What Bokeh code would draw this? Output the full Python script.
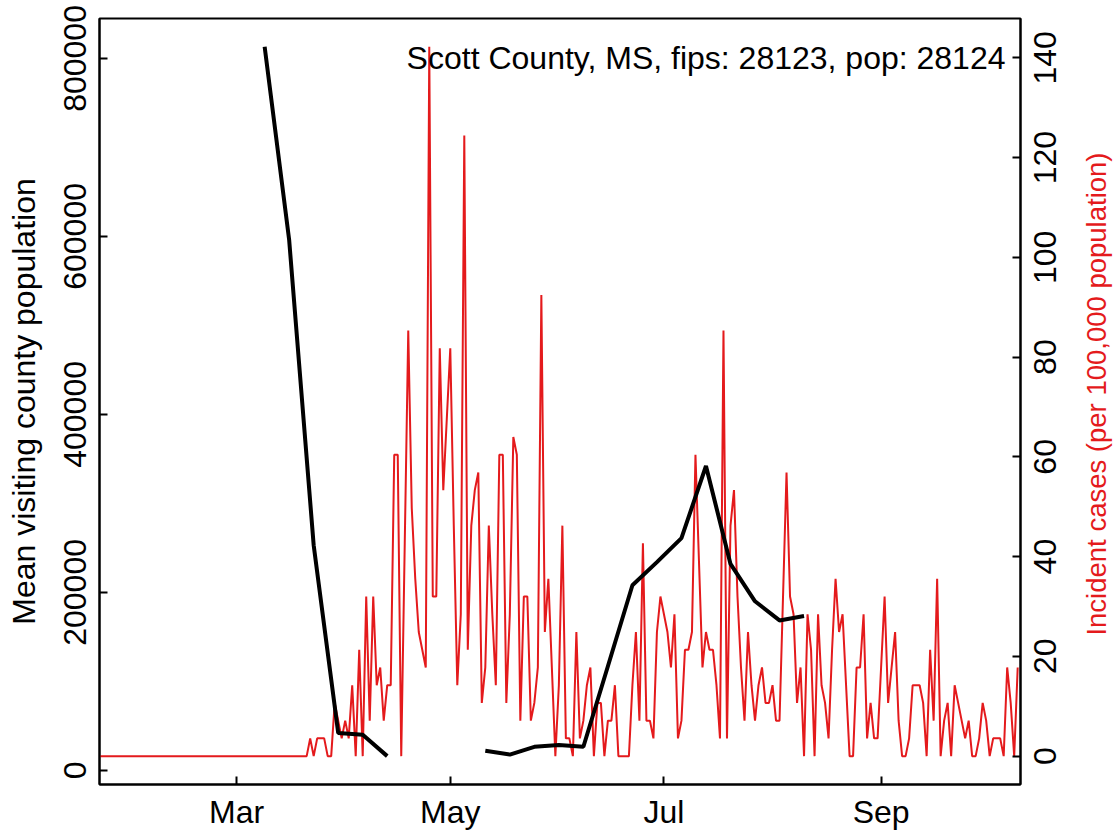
import math
import numpy as np
import pandas as pd
from bokeh.plotting import figure
from bokeh.models import (Range1d, LinearAxis, FixedTicker, BasicTickFormatter,
                          DatetimeTickFormatter, CustomJSTickFormatter, Label)
from bokeh.embed import file_html
from bokeh.resources import INLINE

FONT = "Liberation Sans"
RED = "#E41A1C"

# ---- data ---------------------------------------------------------------
# weekly mean visiting county population (black line); NaN = missing weeks
mobility_dates = ["2020-03-09", "2020-03-16", "2020-03-23", "2020-03-30",
                  "2020-04-06", "2020-04-13", "2020-04-20", "2020-04-27",
                  "2020-05-04", "2020-05-11", "2020-05-18", "2020-05-25",
                  "2020-06-01", "2020-06-08", "2020-06-15", "2020-06-22",
                  "2020-06-29", "2020-07-06", "2020-07-13", "2020-07-20",
                  "2020-07-27", "2020-08-03", "2020-08-10"]
mobility_values = [813000, 596000, 253000, 42000, 40000, 16000,
                   np.nan, np.nan, np.nan,
                   22000, 17700, 26500, 28400, 26500, 117000, 208000,
                   234000, 261000, 342000, 232000, 190000, 168500, 173500]

# daily incident cases per 100,000 population (red line), from 2020-01-22
cases_start = "2020-01-22"
cases_values = [
    0, 0, 0, 0, 0, 0, 0, 0, 0, 0, 0, 0, 0, 0, 0, 0, 0, 0, 0, 0,
    0, 0, 0, 0, 0, 0, 0, 0, 0, 0, 0, 0, 0, 0, 0, 0, 0, 0, 0, 0,
    0, 0, 0, 0, 0, 0, 0, 0, 0, 0, 0, 0, 0, 0, 0, 0, 0, 0, 0, 0,
    3.56, 0, 3.56, 3.56, 3.56, 0, 0, 10.67, 7.11, 3.56,
    7.11, 3.56, 14.22, 0, 21.33, 0, 32.0, 7.11, 32.0, 14.22,
    17.78, 7.11, 14.22, 14.22, 60.45, 60.45, 0, 42.67, 85.34, 49.78,
    35.56, 24.89, 21.33, 17.78, 142.23, 32.0, 32.0, 81.78, 53.34, 67.56,
    81.78, 46.22, 14.22, 28.45, 124.45, 21.33, 46.22, 53.34, 56.89, 10.67,
    17.78, 46.22, 28.45, 14.22, 60.45, 60.45, 10.67, 28.45, 64.0, 60.45,
    7.11, 32.0, 32.0, 7.11, 10.67, 17.78, 92.45, 24.89, 35.56, 17.78,
    0, 14.22, 46.22, 3.56, 3.56, 0, 24.89, 3.56, 7.11, 14.22,
    17.78, 0, 10.67, 10.67, 0, 7.11, 7.11, 14.22, 0, 0,
    0, 0, 14.22, 24.89, 7.11, 42.67, 7.11, 7.11, 3.56, 24.89,
    32.0, 28.45, 24.89, 17.78, 28.45, 3.56, 7.11, 21.33, 21.33, 24.89,
    60.45, 39.11, 17.78, 24.89, 21.33, 21.33, 14.22, 3.56, 85.34, 3.56,
    46.22, 53.34, 32.0, 17.78, 7.11, 24.89, 14.22, 7.11, 14.22, 17.78,
    10.67, 10.67, 14.22, 7.11, 7.11, 32.0, 56.89, 32.0, 28.45, 10.67,
    17.78, 0, 28.45, 21.33, 0, 28.45, 14.22, 10.67, 3.56, 21.33,
    35.56, 24.89, 28.45, 14.22, 0, 0, 17.78, 17.78, 28.45, 3.56,
    10.67, 3.56, 3.56, 17.78, 32.0, 10.67, 17.78, 24.89, 7.11, 0,
    0, 3.56, 14.22, 14.22, 14.22, 10.67, 0, 21.33, 7.11, 35.56,
    0, 7.11, 10.67, 0, 14.22, 10.67, 7.11, 3.56, 7.11, 0,
    0, 3.56, 10.67, 7.11, 0, 3.56, 3.56, 3.56, 0, 17.78,
    10.67, 0, 17.78,
]

x_tick_dates = ["2020-03-01", "2020-05-01", "2020-07-01", "2020-09-01"]
left_ticks = [0, 200000, 400000, 600000, 800000]
right_ticks = [0, 20, 40, 60, 80, 100, 120, 140]

title_text = "Scott County, MS, fips: 28123, pop: 28124"
left_label = "Mean visiting county population"
right_label = "Incident cases (per 100,000 population)"

# ---- layout constants ---------------------------------------------------
W, H = 1119, 832
FL, FR, FT, FB = 99, 1020, 18, 787        # frame edges in px
FS = 32                                    # font size px
FS_RIGHT_TITLE = 27.5
RED_LO, RED_HI = -5.69, 147.92
BLK_LO, BLK_HI = -15880, 844880


def ms(ts):
    return pd.Timestamp(ts).value / 1e6


t0 = pd.Timestamp(cases_start)
day = pd.Timedelta(days=1)
D0, D1 = -0.15, 262.8                      # x range in days from t0
px_per_day = (FR - FL) / (D1 - D0)
px_per_case = (FB - FT) / (RED_HI - RED_LO)


def x_at_px(px):
    return ms(t0 + (D0 + (px - FL) / px_per_day) * day)


def red_at_px(py):
    return RED_LO + (FB - py) / px_per_case


mob_x = pd.to_datetime(mobility_dates)
case_x = pd.date_range(cases_start, periods=len(cases_values), freq="D")

p = figure(width=W, height=H, x_axis_type="datetime",
           x_range=Range1d(ms(t0 + D0 * day), ms(t0 + D1 * day)),
           y_range=Range1d(BLK_LO, BLK_HI),
           output_backend="svg", toolbar_location=None,
           min_border_left=FL, min_border_right=W - FR,
           min_border_top=FT, min_border_bottom=H - FB,
           background_fill_color="white", border_fill_color="white")
p.extra_y_ranges = {"cases": Range1d(RED_LO, RED_HI)}

p.xgrid.visible = False
p.ygrid.visible = False
p.outline_line_color = "black"
p.outline_line_width = 2

p.line(case_x, cases_values, y_range_name="cases", line_color=RED, line_width=2)
p.line(mob_x, mobility_values, line_color="black", line_width=4)


def style_axis(ax):
    ax.axis_line_color = "black"
    ax.axis_line_width = 2
    ax.major_tick_line_color = "black"
    ax.major_tick_line_width = 2
    ax.major_tick_in = 8
    ax.major_tick_out = 0
    ax.minor_tick_line_color = None
    ax.major_label_text_font = FONT
    ax.major_label_text_font_size = f"{FS}px"
    ax.major_label_text_color = "black"
    ax.axis_label_text_font = FONT
    ax.axis_label_text_font_size = f"{FS}px"
    ax.axis_label_text_font_style = "normal"


# x axis
xa = p.xaxis[0]
style_axis(xa)
xa.ticker = FixedTicker(ticks=[ms(d) for d in x_tick_dates])
xa.formatter = DatetimeTickFormatter(days="%b", months="%b", years="%b")
xa.major_label_standoff = 9

# left axis
ya = p.yaxis[0]
style_axis(ya)
ya.ticker = FixedTicker(ticks=left_ticks)
ya.formatter = BasicTickFormatter(use_scientific=False)
ya.major_label_orientation = "vertical"
ya.major_label_standoff = 13
ya.axis_label = left_label
ya.axis_label_text_color = "black"
ya.axis_label_standoff = 20

# right axis: tick marks on the frame
ra = LinearAxis(y_range_name="cases")
style_axis(ra)
ra.ticker = FixedTicker(ticks=right_ticks)
ra.major_label_text_font_size = "1px"
ra.major_label_text_color = None
ra.major_label_standoff = 0
p.add_layout(ra, "right")

# right axis labels, read bottom-to-top, centred on their ticks
digit_w = 0.556 * FS
label_txt = [str(t) for t in right_ticks]
label_pos = [t - len(s) * digit_w / 2 / px_per_case for t, s in zip(right_ticks, label_txt)]
rl = LinearAxis(y_range_name="cases")
style_axis(rl)
rl.axis_line_color = None
rl.major_tick_line_color = None
rl.ticker = FixedTicker(ticks=label_pos)
rl.formatter = CustomJSTickFormatter(args=dict(pos=label_pos, txt=label_txt), code="""
    let best = 0, bd = Infinity;
    for (let i = 0; i < pos.length; i++) {
        const d = Math.abs(pos[i] - tick);
        if (d < bd) { bd = d; best = i; }
    }
    return txt[best];
""")
rl.major_label_orientation = math.pi / 2
rl.major_label_standoff = 25
p.add_layout(rl, "right")

# right axis title (red), read bottom-to-top; placed in the right side panel
p.add_layout(Label(x=x_at_px(1096), y=red_at_px(395), y_range_name="cases",
                   text=right_label, angle=math.pi / 2, angle_units="rad",
                   text_align="center", text_baseline="middle",
                   text_font=FONT, text_font_size=f"{FS_RIGHT_TITLE}px",
                   text_color=RED),
             "right")

# in-plot title
p.add_layout(Label(x=x_at_px(1005), y=140, y_range_name="cases",
                   text=title_text, text_align="right", text_baseline="middle",
                   text_font=FONT, text_font_size=f"{FS}px", text_color="black"))

open("out.html", "w").write(file_html(p, INLINE))
